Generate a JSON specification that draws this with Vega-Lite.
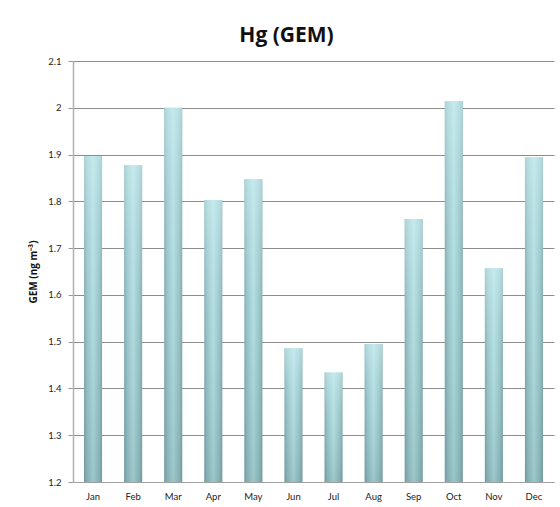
{
  "$schema": "https://vega.github.io/schema/vega-lite/v6.json",
  "width": 481,
  "height": 421,
  "autosize": {"type": "none"},
  "padding": {"left": 73, "top": 61, "right": 6, "bottom": 25},
  "background": "white",
  "title": {
    "text": "Hg (GEM)",
    "font": "Open Sans",
    "fontSize": 21,
    "fontWeight": "bold",
    "color": "#111111",
    "anchor": "middle",
    "frame": "group",
    "dx": -27,
    "offset": 10
  },
  "data": {
    "values": [
      {"month": "Jan", "gem": 1.897},
      {"month": "Feb", "gem": 1.877},
      {"month": "Mar", "gem": 2.0},
      {"month": "Apr", "gem": 1.803},
      {"month": "May", "gem": 1.847},
      {"month": "Jun", "gem": 1.486},
      {"month": "Jul", "gem": 1.434},
      {"month": "Aug", "gem": 1.495},
      {"month": "Sep", "gem": 1.762},
      {"month": "Oct", "gem": 2.014},
      {"month": "Nov", "gem": 1.657},
      {"month": "Dec", "gem": 1.894}
    ]
  },
  "encoding": {
    "x": {
      "field": "month",
      "type": "nominal",
      "sort": null,
      "scale": {"paddingInner": 0.55, "paddingOuter": 0.275},
      "axis": {
        "title": null,
        "labelAngle": 0,
        "labelFont": "Lato",
        "labelFontSize": 9.5,
        "labelColor": "#222222",
        "labelPadding": 9,
        "ticks": false,
        "domainColor": "#a0a0a0",
        "domainWidth": 1.2
      }
    },
    "y": {
      "field": "gem",
      "type": "quantitative",
      "scale": {"domain": [1.2, 2.1], "zero": false, "nice": false},
      "axis": {
        "title": "GEM (ng m⁻³)",
        "titleFont": "Open Sans",
        "titleFontSize": 10,
        "titleFontWeight": "bold",
        "titleColor": "#111111",
        "titlePadding": 9,
        "values": [1.2, 1.3, 1.4, 1.5, 1.6, 1.7, 1.8, 1.9, 2.0, 2.1],
        "format": "~g",
        "labelFont": "Lato",
        "labelFontSize": 9.5,
        "labelColor": "#222222",
        "labelPadding": 7,
        "tickSize": 5,
        "tickColor": "#9a9a9a",
        "domainColor": "#b0b0b0",
        "domainWidth": 1.5,
        "gridColor": "#8c8c8c",
        "gridWidth": 1
      }
    },
    "y2": {"datum": 1.2}
  },
  "layer": [
    {
      "mark": {
        "type": "bar",
        "color": {
          "gradient": "linear",
          "x1": 0, "y1": 0, "x2": 1, "y2": 0,
          "stops": [
            {"offset": 0, "color": "#7aa3a7"},
            {"offset": 0.15, "color": "#92bec2"},
            {"offset": 0.5, "color": "#b0dce0"},
            {"offset": 0.85, "color": "#92bec2"},
            {"offset": 1, "color": "#7aa3a7"}
          ]
        }
      }
    },
    {
      "mark": {
        "type": "bar",
        "color": {
          "gradient": "linear",
          "x1": 0, "y1": 0, "x2": 0, "y2": 1,
          "stops": [
            {"offset": 0, "color": "rgba(215,246,249,0.55)"},
            {"offset": 0.4, "color": "rgba(200,238,242,0.15)"},
            {"offset": 1, "color": "rgba(70,110,115,0.2)"}
          ]
        }
      }
    }
  ],
  "config": {
    "view": {"stroke": null}
  }
}
